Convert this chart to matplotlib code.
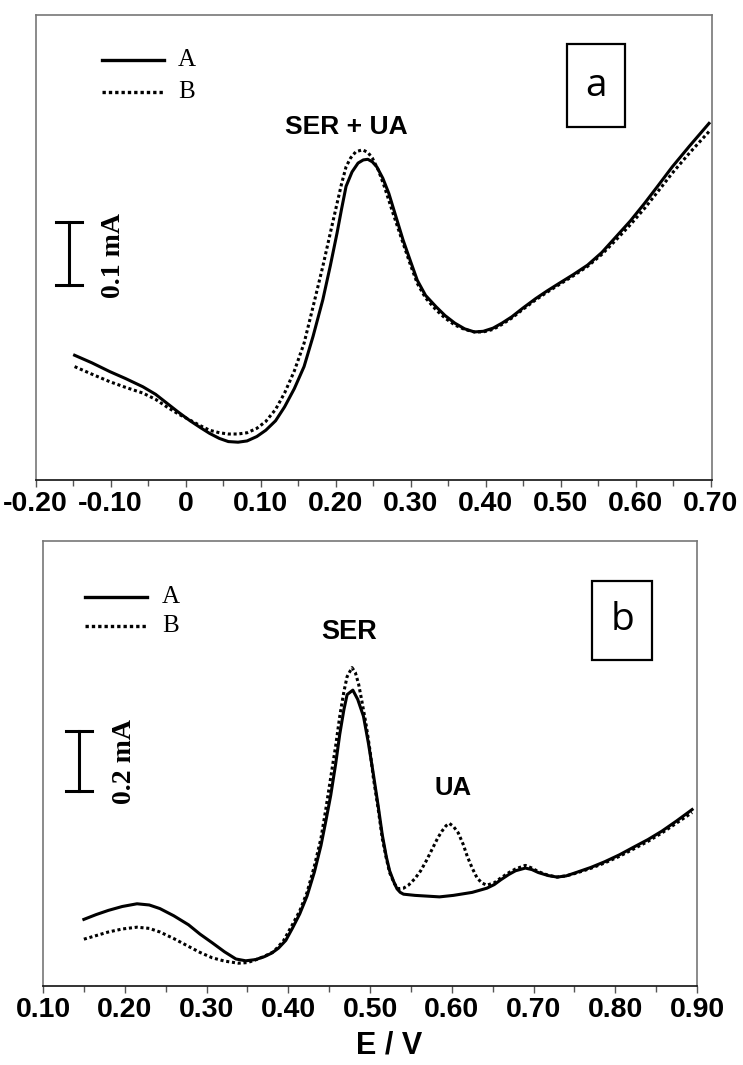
import matplotlib
matplotlib.use("Agg")
import matplotlib.pyplot as plt
from matplotlib.patches import Rectangle
import numpy as np

# ---------------- data ----------------
# Panel a (E in V, current in mA above axis floor)
Ea_A = [-0.148, -0.125, -0.101, -0.080, -0.057, -0.040, -0.025, -0.010, 0.006, 0.020, 0.032,
        0.045, 0.057, 0.070, 0.082, 0.095, 0.107, 0.120, 0.132, 0.145, 0.158, 0.170, 0.183,
        0.193, 0.202, 0.208, 0.214, 0.222, 0.230, 0.237, 0.243, 0.249, 0.255, 0.263, 0.271,
        0.280, 0.290, 0.300, 0.309, 0.320, 0.334, 0.346, 0.359, 0.372, 0.385, 0.397, 0.410,
        0.422, 0.435, 0.450, 0.467, 0.482, 0.498, 0.517, 0.536, 0.555, 0.574, 0.593, 0.612,
        0.630, 0.649, 0.672, 0.698]
Ia_A = [0.198, 0.186, 0.172, 0.161, 0.148, 0.136, 0.122, 0.108, 0.094, 0.083, 0.074,
        0.066, 0.061, 0.060, 0.062, 0.069, 0.079, 0.094, 0.116, 0.145, 0.180, 0.228, 0.286,
        0.340, 0.392, 0.430, 0.466, 0.489, 0.503, 0.508, 0.509, 0.505, 0.497, 0.479, 0.455,
        0.420, 0.381, 0.347, 0.317, 0.293, 0.275, 0.261, 0.249, 0.240, 0.235, 0.236, 0.241,
        0.249, 0.259, 0.273, 0.288, 0.300, 0.312, 0.326, 0.341, 0.361, 0.386, 0.411, 0.439,
        0.467, 0.497, 0.530, 0.566]
Ea_B = [-0.148, -0.125, -0.101, -0.080, -0.057, -0.040, -0.025, -0.010, 0.006, 0.020, 0.032,
        0.045, 0.057, 0.070, 0.082, 0.095, 0.107, 0.120, 0.132, 0.145, 0.158, 0.170, 0.183,
        0.193, 0.202, 0.208, 0.214, 0.220, 0.227, 0.236, 0.243, 0.249, 0.257, 0.265, 0.277,
        0.290, 0.300, 0.309, 0.320, 0.334, 0.346, 0.359, 0.372, 0.385, 0.397, 0.410, 0.422,
        0.435, 0.450, 0.467, 0.482, 0.498, 0.517, 0.536, 0.555, 0.574, 0.593, 0.612, 0.630,
        0.649, 0.672, 0.698]
Ia_B = [0.180, 0.168, 0.156, 0.147, 0.138, 0.128, 0.116, 0.105, 0.095, 0.086, 0.079,
        0.075, 0.073, 0.073, 0.075, 0.082, 0.093, 0.112, 0.138, 0.173, 0.217, 0.275, 0.339,
        0.392, 0.439, 0.470, 0.497, 0.511, 0.521, 0.524, 0.520, 0.511, 0.492, 0.466, 0.422,
        0.376, 0.341, 0.312, 0.289, 0.270, 0.257, 0.246, 0.239, 0.235, 0.235, 0.239, 0.247,
        0.257, 0.271, 0.286, 0.298, 0.310, 0.324, 0.339, 0.358, 0.381, 0.405, 0.431, 0.458,
        0.487, 0.519, 0.553]

# Panel b
Eb_A = [0.150, 0.165, 0.180, 0.197, 0.215, 0.230, 0.243, 0.260, 0.278, 0.292, 0.307, 0.322,
        0.336, 0.348, 0.360, 0.371, 0.380, 0.388, 0.397, 0.405, 0.414, 0.423, 0.432, 0.440,
        0.446, 0.452, 0.458, 0.463, 0.468, 0.472, 0.479, 0.485, 0.492, 0.498, 0.504, 0.510,
        0.515, 0.520, 0.524, 0.529, 0.533, 0.537, 0.541, 0.555, 0.567, 0.585, 0.602, 0.625,
        0.643, 0.652, 0.660, 0.670, 0.678, 0.690, 0.698, 0.706, 0.718, 0.729, 0.740, 0.752,
        0.770, 0.787, 0.805, 0.822, 0.840, 0.857, 0.875, 0.894]
Ib_A = [0.222, 0.238, 0.252, 0.265, 0.274, 0.270, 0.258, 0.234, 0.204, 0.173, 0.144, 0.114,
        0.090, 0.084, 0.088, 0.098, 0.110, 0.126, 0.152, 0.192, 0.240, 0.300, 0.380, 0.468,
        0.550, 0.636, 0.740, 0.839, 0.920, 0.971, 0.986, 0.955, 0.899, 0.810, 0.708, 0.600,
        0.504, 0.430, 0.384, 0.348, 0.324, 0.312, 0.306, 0.302, 0.300, 0.297, 0.302, 0.312,
        0.326, 0.338, 0.354, 0.372, 0.384, 0.393, 0.388, 0.378, 0.368, 0.363, 0.367, 0.378,
        0.395, 0.414, 0.437, 0.462, 0.488, 0.516, 0.550, 0.588]
Eb_B = [0.150, 0.165, 0.180, 0.197, 0.215, 0.230, 0.243, 0.260, 0.278, 0.292, 0.307, 0.322,
        0.339, 0.350, 0.359, 0.370, 0.382, 0.394, 0.405, 0.414, 0.423, 0.432, 0.440, 0.446,
        0.452, 0.458, 0.463, 0.468, 0.472, 0.478, 0.482, 0.486, 0.490, 0.495, 0.500, 0.504,
        0.510, 0.515, 0.520, 0.524, 0.530, 0.535, 0.541, 0.547, 0.555, 0.562, 0.569, 0.576,
        0.583, 0.588, 0.593, 0.597, 0.602, 0.608, 0.614, 0.619, 0.625, 0.631, 0.637, 0.643,
        0.652, 0.660, 0.670, 0.678, 0.690, 0.698, 0.706, 0.718, 0.729, 0.740, 0.752, 0.770,
        0.787, 0.805, 0.822, 0.840, 0.857, 0.875, 0.894]
Ib_B = [0.156, 0.168, 0.180, 0.190, 0.196, 0.192, 0.180, 0.158, 0.132, 0.112, 0.094, 0.083,
        0.076, 0.078, 0.086, 0.098, 0.114, 0.150, 0.204, 0.250, 0.312, 0.400, 0.492, 0.590,
        0.696, 0.800, 0.899, 0.980, 1.031, 1.061, 1.045, 1.007, 0.950, 0.875, 0.785, 0.696,
        0.590, 0.492, 0.425, 0.378, 0.340, 0.324, 0.326, 0.336, 0.358, 0.384, 0.418, 0.456,
        0.494, 0.516, 0.534, 0.542, 0.532, 0.510, 0.472, 0.432, 0.393, 0.360, 0.343, 0.336,
        0.344, 0.360, 0.378, 0.390, 0.402, 0.393, 0.381, 0.369, 0.363, 0.367, 0.376, 0.392,
        0.410, 0.432, 0.456, 0.482, 0.510, 0.543, 0.578]

ticks_a = [-0.20, -0.10, 0.0, 0.10, 0.20, 0.30, 0.40, 0.50, 0.60, 0.70]
ticklabels_a = ['-0.20', '-0.10', '0', '0.10', '0.20', '0.30', '0.40', '0.50', '0.60', '0.70']
ticks_b = [0.10, 0.20, 0.30, 0.40, 0.50, 0.60, 0.70, 0.80, 0.90]
ticklabels_b = ['0.10', '0.20', '0.30', '0.40', '0.50', '0.60', '0.70', '0.80', '0.90']

# ---------------- figure ----------------
W, H = 743, 1065
fig = plt.figure(figsize=(W / 100, H / 100), dpi=100)


def px_rect(l, t, r, b):
    return [l / W, 1 - b / H, (r - l) / W, (b - t) / H]


axa = fig.add_axes(px_rect(35.6, 15, 712, 480))
axb = fig.add_axes(px_rect(43, 541, 697, 986))

SANS = ['Liberation Sans', 'DejaVu Sans']
SERIF = ['Liberation Serif', 'DejaVu Serif']


def style(ax, xlim, ylim, ticks, labels):
    ax.set_xlim(*xlim)
    ax.set_ylim(*ylim)
    ax.set_yticks([])
    ax.set_xticks(ticks)
    ax.set_xticklabels(labels, fontfamily=SANS, fontweight='bold', fontsize=20.5)
    ax.set_xticks(np.arange(ticks[0] + 0.05, ticks[-1], 0.1), minor=True)
    ax.tick_params(axis='x', which='major', direction='out', length=5, width=1,
                   color='#555555', pad=3)
    ax.tick_params(axis='x', which='minor', direction='out', length=4, width=1,
                   color='#555555')
    for s in ['left', 'top', 'right']:
        ax.spines[s].set_color('#777777')
        ax.spines[s].set_linewidth(1.2)
    ax.spines['bottom'].set_color('#111111')
    ax.spines['bottom'].set_linewidth(1.2)


style(axa, (-0.20, 0.702), (0, 0.738), ticks_a, ticklabels_a)
style(axb, (0.10, 0.90), (0, 1.483), ticks_b, ticklabels_b)

dot = (0, (1.0, 0.9))
axa.plot(Ea_A, Ia_A, color='black', lw=2.2, solid_joinstyle='round')
axa.plot(Ea_B, Ia_B, color='black', lw=2.2, linestyle=dot)
axb.plot(Eb_A, Ib_A, color='black', lw=2.2, solid_joinstyle='round')
axb.plot(Eb_B, Ib_B, color='black', lw=2.2, linestyle=dot)


def legend_and_marks(l0, l1, yA, yB, tx, box, bar, bar_text, bar_tx, bar_ty, letter):
    tr = fig.transFigure
    def fx(x): return x / W
    def fy(y): return 1 - y / H
    fig.add_artist(plt.Line2D([fx(l0), fx(l1)], [fy(yA), fy(yA)], color='black', lw=2.4,
                              transform=tr))
    fig.add_artist(plt.Line2D([fx(l0), fx(l1)], [fy(yB), fy(yB)], color='black', lw=2.4,
                              linestyle=dot, transform=tr))
    fig.text(fx(tx), fy(yA), 'A', fontfamily=SERIF, fontsize=18, va='center', ha='left')
    fig.text(fx(tx), fy(yB), 'B', fontfamily=SERIF, fontsize=18, va='center', ha='left')
    bl, bt, br, bb = box
    fig.add_artist(Rectangle((fx(bl), fy(bb)), fx(br) - fx(bl), fy(bt) - fy(bb),
                             fill=False, edgecolor='black', lw=1.6, transform=tr))
    fig.text(fx((bl + br) / 2), fy((bt + bb) / 2), letter, fontfamily=['Open Sans', 'DejaVu Sans'],
             fontsize=28, ha='center', va='center')
    x0, x1, xc, y0, y1 = bar
    fig.add_artist(plt.Line2D([fx(xc), fx(xc)], [fy(y0), fy(y1)], color='black', lw=2.2, transform=tr))
    fig.add_artist(plt.Line2D([fx(x0), fx(x1)], [fy(y0), fy(y0)], color='black', lw=2.2, transform=tr))
    fig.add_artist(plt.Line2D([fx(x0), fx(x1)], [fy(y1), fy(y1)], color='black', lw=2.2, transform=tr))
    fig.text(fx(bar_tx), fy(bar_ty), bar_text, fontfamily=SERIF, fontweight='bold',
             fontsize=20, rotation=90, ha='center', va='center')


legend_and_marks(102, 164, 60, 92, 178, (567, 44, 625, 127),
                 (56, 82, 69, 222, 285), '0.1 mA', 113, 255, 'a')
legend_and_marks(85, 147, 597, 626, 162, (592, 581, 652, 660),
                 (66, 92, 79, 731, 791), '0.2 mA', 125, 761, 'b')

axa.text(0.214, 0.561, 'SER + UA', fontfamily=SANS, fontweight='bold', fontsize=19,
         ha='center', va='center')
axb.text(0.475, 1.181, 'SER', fontfamily=SANS, fontweight='bold', fontsize=19.5,
         ha='center', va='center')
axb.text(0.602, 0.66, 'UA', fontfamily=SANS, fontweight='bold', fontsize=18.5,
         ha='center', va='center')

fig.text(389 / W, 1 - 1045 / H, 'E / V', fontfamily=SANS, fontweight='bold', fontsize=22,
         ha='center', va='center')

fig.savefig('out.png', dpi=100)
